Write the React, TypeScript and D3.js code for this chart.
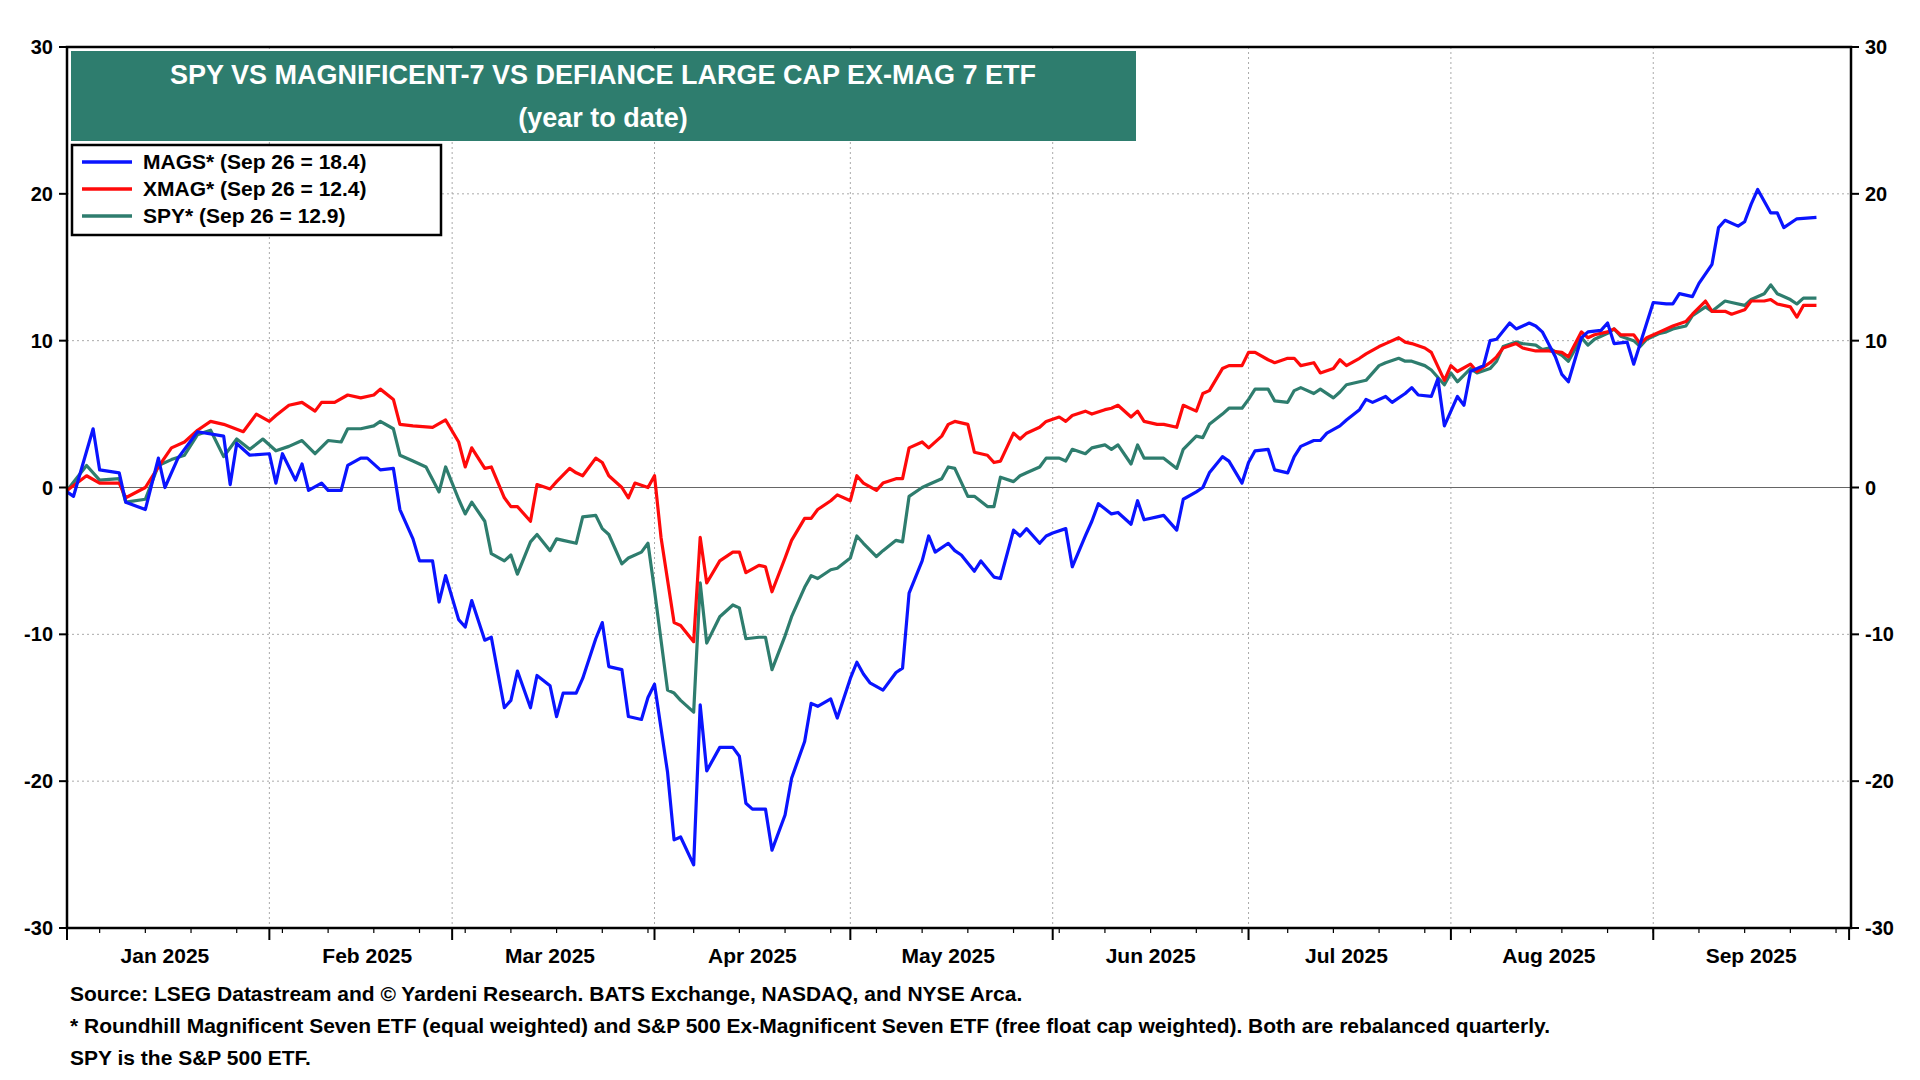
import React from 'react';
import * as d3 from 'd3';

// [day of year (Jan 1 = 0), % change ytd]
const MAGS: [number, number][] = [
  [0,-0.3],[1,-0.6],[4,4],[5,1.2],[8,1],[9,-1],[12,-1.5],[14,2],[15,0],[17,2],[20,3.8],[24,3.5],[25,0.2],[26,3],[28,2.2],[31,2.3],[32,0.3],[33,2.3],[35,0.5],[36,1.6],[37,-0.2],[39,0.3],[40,-0.2],[42,-0.2],[43,1.5],[45,2],[46,2],[48,1.2],[50,1.3],[51,-1.5],[53,-3.5],[54,-5],[56,-5],[57,-7.8],[58,-6],[60,-9],[61,-9.5],[62,-7.7],[64,-10.4],[65,-10.2],[67,-15],[68,-14.5],[69,-12.5],[71,-15],[72,-12.8],[74,-13.5],[75,-15.6],[76,-14],[78,-14],[79,-13],[81,-10.3],[82,-9.2],[83,-12.2],[85,-12.4],[86,-15.6],[88,-15.8],[89,-14.3],[90,-13.4],[92,-19.4],[93,-24],[94,-23.8],[96,-25.7],[97,-14.8],[98,-19.3],[100,-17.7],[102,-17.7],[103,-18.3],[104,-21.5],[105,-21.9],[107,-21.9],[108,-24.7],[110,-22.3],[111,-19.8],[113,-17.3],[114,-14.7],[115,-14.9],[117,-14.4],[118,-15.7],[120,-13],[121,-11.9],[122,-12.7],[123,-13.3],[125,-13.8],[127,-12.6],[128,-12.3],[129,-7.2],[131,-5],[132,-3.3],[133,-4.4],[135,-3.8],[136,-4.3],[137,-4.6],[139,-5.7],[140,-5],[142,-6.1],[143,-6.2],[145,-2.9],[146,-3.3],[147,-2.8],[149,-3.8],[150,-3.3],[151,-3.1],[153,-2.8],[154,-5.4],[156,-3.3],[157,-2.3],[158,-1.1],[160,-1.8],[161,-1.7],[163,-2.5],[164,-0.9],[165,-2.2],[167,-2],[168,-1.9],[170,-2.9],[171,-0.8],[173,-0.3],[174,0],[175,1],[177,2.1],[178,1.8],[180,0.3],[181,1.7],[182,2.5],[184,2.6],[185,1.2],[187,1],[188,2.1],[189,2.8],[191,3.2],[192,3.2],[193,3.7],[195,4.2],[196,4.6],[198,5.3],[199,6],[200,5.8],[202,6.2],[203,5.8],[205,6.4],[206,6.8],[207,6.3],[209,6.2],[210,7.4],[211,4.2],[213,6.2],[214,5.6],[215,7.9],[217,8.3],[218,10],[219,10.1],[221,11.2],[222,10.8],[224,11.2],[225,11],[226,10.6],[228,8.9],[229,7.7],[230,7.2],[232,10.2],[233,10.6],[235,10.7],[236,11.2],[237,9.8],[239,9.9],[240,8.4],[242,11.2],[243,12.6],[245,12.5],[246,12.5],[247,13.2],[249,13],[250,13.9],[252,15.2],[253,17.7],[254,18.2],[256,17.8],[257,18.1],[258,19.3],[259,20.3],[261,18.7],[262,18.7],[263,17.7],[265,18.3],[268,18.4],
];

const XMAG: [number, number][] = [
  [0,-0.2],[3,0.8],[5,0.3],[8,0.3],[9,-0.7],[12,0],[14,1.4],[16,2.7],[18,3.1],[20,3.9],[22,4.5],[24,4.3],[27,3.8],[29,5],[31,4.5],[32,4.9],[34,5.6],[36,5.8],[38,5.2],[39,5.8],[41,5.8],[43,6.3],[45,6.1],[47,6.3],[48,6.7],[50,6],[51,4.3],[53,4.2],[56,4.1],[58,4.6],[60,3.1],[61,1.4],[62,2.7],[64,1.3],[65,1.4],[67,-0.7],[68,-1.3],[69,-1.3],[71,-2.3],[72,0.2],[74,-0.1],[75,0.4],[77,1.3],[78,1],[79,0.8],[81,2],[82,1.7],[83,0.8],[85,0],[86,-0.7],[87,0.3],[89,0],[90,0.8],[91,-3.4],[93,-9.2],[94,-9.4],[96,-10.5],[97,-3.4],[98,-6.5],[100,-5],[102,-4.4],[103,-4.4],[104,-5.8],[106,-5.3],[107,-5.4],[108,-7.1],[110,-4.8],[111,-3.6],[113,-2.1],[114,-2.1],[115,-1.5],[117,-0.9],[118,-0.5],[120,-0.9],[121,0.8],[122,0.3],[124,-0.2],[125,0.3],[127,0.6],[128,0.6],[129,2.7],[131,3.1],[132,2.7],[134,3.5],[135,4.3],[136,4.5],[138,4.3],[139,2.4],[141,2.2],[142,1.7],[143,1.8],[145,3.7],[146,3.3],[147,3.7],[149,4.1],[150,4.5],[152,4.8],[153,4.5],[154,4.9],[156,5.2],[157,5],[159,5.3],[160,5.4],[161,5.6],[163,4.8],[164,5.2],[165,4.5],[167,4.3],[168,4.3],[170,4.1],[171,5.6],[173,5.2],[174,6.4],[175,6.6],[177,8.1],[178,8.3],[180,8.3],[181,9.2],[182,9.2],[184,8.7],[185,8.5],[187,8.8],[188,8.8],[189,8.3],[191,8.5],[192,7.8],[194,8.1],[195,8.7],[196,8.3],[198,8.8],[199,9.1],[201,9.6],[202,9.8],[204,10.2],[205,9.9],[206,9.8],[208,9.5],[209,9.2],[211,7.3],[212,8.3],[213,7.9],[215,8.4],[216,7.9],[218,8.5],[219,8.9],[220,9.5],[222,9.8],[223,9.5],[225,9.3],[226,9.3],[227,9.3],[229,9.2],[230,8.9],[232,10.6],[233,10.2],[234,10.4],[236,10.6],[237,10.8],[238,10.4],[240,10.4],[241,9.8],[242,10.2],[244,10.6],[245,10.8],[246,11],[248,11.3],[249,11.8],[251,12.7],[252,12],[254,12],[255,11.8],[257,12.1],[258,12.7],[260,12.7],[261,12.8],[262,12.5],[264,12.3],[265,11.6],[266,12.4],[268,12.4],
];

const SPY: [number, number][] = [
  [0,-0.2],[3,1.5],[5,0.5],[8,0.6],[9,-1],[12,-0.8],[14,1.5],[16,1.9],[18,2.2],[20,3.6],[22,3.9],[24,2.1],[26,3.3],[28,2.6],[30,3.3],[32,2.5],[34,2.8],[36,3.2],[38,2.3],[40,3.2],[42,3.1],[43,4],[45,4],[47,4.2],[48,4.5],[50,4],[51,2.2],[53,1.8],[55,1.4],[57,-0.3],[58,1.4],[60,-0.8],[61,-1.8],[62,-1],[64,-2.3],[65,-4.5],[67,-5],[68,-4.6],[69,-5.9],[71,-3.7],[72,-3.2],[74,-4.3],[75,-3.5],[76,-3.6],[78,-3.8],[79,-2],[81,-1.9],[82,-2.8],[83,-3.2],[85,-5.2],[86,-4.8],[88,-4.4],[89,-3.8],[90,-7],[92,-13.8],[93,-14],[94,-14.5],[96,-15.3],[97,-6.5],[98,-10.6],[100,-8.8],[102,-8],[103,-8.2],[104,-10.3],[106,-10.2],[107,-10.2],[108,-12.4],[110,-10.1],[111,-8.8],[113,-6.8],[114,-6],[115,-6.2],[117,-5.6],[118,-5.5],[120,-4.8],[121,-3.3],[122,-3.8],[124,-4.7],[125,-4.3],[127,-3.6],[128,-3.7],[129,-0.6],[131,0],[132,0.2],[134,0.6],[135,1.4],[136,1.3],[138,-0.6],[139,-0.6],[141,-1.3],[142,-1.3],[143,0.7],[145,0.4],[146,0.8],[147,1],[149,1.4],[150,2],[152,2],[153,1.8],[154,2.6],[156,2.3],[157,2.7],[159,2.9],[160,2.6],[161,2.9],[163,1.6],[164,2.9],[165,2],[167,2],[168,2],[170,1.3],[171,2.6],[173,3.5],[174,3.4],[175,4.3],[177,5],[178,5.4],[180,5.4],[181,6],[182,6.7],[184,6.7],[185,5.9],[187,5.8],[188,6.6],[189,6.8],[191,6.4],[192,6.7],[194,6.1],[195,6.5],[196,7],[198,7.2],[199,7.3],[201,8.3],[202,8.5],[204,8.8],[205,8.6],[206,8.6],[208,8.3],[209,8],[211,7],[212,7.8],[213,7.2],[215,8.1],[216,7.8],[218,8.1],[219,8.6],[220,9.6],[222,9.9],[223,9.8],[225,9.7],[226,9.4],[227,9.5],[229,9],[230,8.6],[232,10.2],[233,9.7],[234,10.1],[236,10.5],[237,10.8],[238,10.3],[240,10],[241,9.6],[242,10.1],[244,10.5],[245,10.6],[246,10.8],[248,11],[249,11.7],[251,12.3],[252,12],[254,12.7],[255,12.6],[257,12.4],[258,12.8],[260,13.2],[261,13.8],[262,13.2],[264,12.8],[265,12.5],[266,12.9],[268,12.9],
];

const Y_TICKS = [-30, -20, -10, 0, 10, 20, 30];
const MONTHS = ['Jan 2025', 'Feb 2025', 'Mar 2025', 'Apr 2025', 'May 2025', 'Jun 2025', 'Jul 2025', 'Aug 2025', 'Sep 2025'];
const LEGEND = [
  { label: 'MAGS* (Sep 26 = 18.4)', color: '#0a14ff', data: MAGS },
  { label: 'XMAG* (Sep 26 = 12.4)', color: '#ff0a0a', data: XMAG },
  { label: 'SPY* (Sep 26 = 12.9)', color: '#2e7d6e', data: SPY },
];
const FOOTER = [
  'Source: LSEG Datastream and © Yardeni Research. BATS Exchange, NASDAQ, and NYSE Arca.',
  '* Roundhill Magnificent Seven ETF (equal weighted) and S&P 500 Ex-Magnificent Seven ETF (free float cap weighted). Both are rebalanced quarterly.',
  'SPY is the S&P 500 ETF.',
];

const W = 1920, H = 1080;
const M = { left: 67, right: 1851, top: 47, bottom: 928 };
const FONT = 'Arial, "Liberation Sans", sans-serif';
const t0 = new Date(Date.UTC(2025, 0, 1));
const day = (d: number) => d3.utcDay.offset(t0, d);

export default function App() {
  const x = d3.scaleUtc().domain([t0, d3.utcHour.offset(t0, 273.3 * 24)]).range([M.left, M.right]);
  const y = d3.scaleLinear().domain([-30, 30]).range([M.bottom, M.top]);
  const line = d3.line<[number, number]>().x((d) => x(day(d[0]))).y((d) => y(d[1]));
  const monthStarts = d3.utcMonth.range(t0, d3.utcMonth.offset(t0, 10));
  const weeks = d3.utcMonday.range(t0, x.domain()[1]);

  return (
    <div style={{ position: 'fixed', left: 0, top: 0 }}>
      <svg width={W} height={H} style={{ display: 'block', background: '#fff', fontFamily: FONT }}>
        {/* grid */}
        {Y_TICKS.filter((v) => v !== 0 && Math.abs(v) !== 30).map((v) => (
          <line key={v} x1={M.left} x2={M.right} y1={y(v)} y2={y(v)} stroke="#aaa" strokeDasharray="2,3" />
        ))}
        {monthStarts.slice(1, 9).map((m) => (
          <line key={+m} x1={x(m)} x2={x(m)} y1={M.top} y2={M.bottom} stroke="#aaa" strokeDasharray="2,3" />
        ))}
        <line x1={M.left} x2={M.right} y1={y(0)} y2={y(0)} stroke="#666" strokeWidth={1.2} />

        {/* lines, drawn back to front */}
        {[...LEGEND].reverse().map((s) => (
          <path key={s.label} d={line(s.data) ?? ''} fill="none" stroke={s.color} strokeWidth={3.2} strokeLinejoin="round" />
        ))}

        {/* frame */}
        <rect x={M.left} y={M.top} width={M.right - M.left} height={M.bottom - M.top} fill="none" stroke="#000" strokeWidth={2.5} />

        {/* y axes */}
        {Y_TICKS.map((v) => (
          <g key={v} fontSize={20} fontWeight="bold">
            <line x1={M.left - 8} x2={M.left} y1={y(v)} y2={y(v)} stroke="#000" strokeWidth={2} />
            <line x1={M.right} x2={M.right + 8} y1={y(v)} y2={y(v)} stroke="#000" strokeWidth={2} />
            <text x={M.left - 14} y={y(v)} dy="0.35em" textAnchor="end">{v}</text>
            <text x={M.right + 14} y={y(v)} dy="0.35em">{v}</text>
          </g>
        ))}

        {/* x axis */}
        {weeks.map((w) => (
          <line key={+w} x1={x(w)} x2={x(w)} y1={M.bottom} y2={M.bottom + 5} stroke="#000" strokeWidth={1.2} />
        ))}
        {monthStarts.filter((m) => x(m) <= M.right).map((m) => (
          <line key={+m} x1={x(m)} x2={x(m)} y1={M.bottom} y2={M.bottom + 12} stroke="#000" strokeWidth={2} />
        ))}
        {MONTHS.map((label, i) => {
          const mid = x(d3.utcDay.offset(monthStarts[i], 15));
          return (
            <text key={label} x={mid} y={M.bottom + 35} textAnchor="middle" fontSize={21} fontWeight="bold">{label}</text>
          );
        })}

        {/* title */}
        <rect x={71} y={51} width={1065} height={90} fill="#2e7d6e" />
        <text x={603} y={84} textAnchor="middle" fill="#fff" fontSize={27} fontWeight="bold">
          SPY VS MAGNIFICENT-7 VS DEFIANCE LARGE CAP EX-MAG 7 ETF
        </text>
        <text x={603} y={127} textAnchor="middle" fill="#fff" fontSize={27} fontWeight="bold">(year to date)</text>

        {/* legend */}
        <rect x={72} y={145} width={369} height={90} fill="#fff" stroke="#000" strokeWidth={2.5} />
        {LEGEND.map((s, i) => (
          <g key={s.label}>
            <line x1={82} x2={132} y1={162 + i * 27} y2={162 + i * 27} stroke={s.color} strokeWidth={3.5} />
            <text x={143} y={162 + i * 27} dy="0.35em" fontSize={21} fontWeight="bold">{s.label}</text>
          </g>
        ))}

        {/* footer */}
        {FOOTER.map((t, i) => (
          <text key={i} x={70} y={1001 + i * 32} fontSize={21} fontWeight="bold">{t}</text>
        ))}
      </svg>
    </div>
  );
}
